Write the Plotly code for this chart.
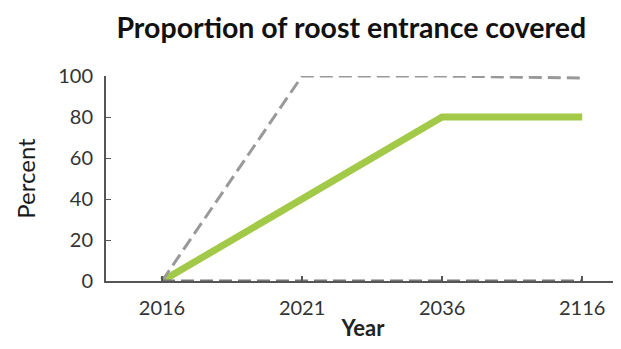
import plotly.graph_objects as go

years = ["2016", "2021", "2036", "2116"]
upper = [0, 100, 100, 99]
lower = [0, 0, 0, 0]
expected = [0, 40, 80, 80]

FONT = "Lato"

fig = go.Figure()
fig.add_trace(go.Scatter(x=years, y=expected, mode="lines",
                         line=dict(color="#a3c948", width=7), showlegend=False))
fig.add_trace(go.Scatter(x=years, y=upper, mode="lines",
                         line=dict(color="#999999", width=3, dash="13px,6px"), showlegend=False))
fig.add_trace(go.Scatter(x=years, y=lower, mode="lines",
                         line=dict(color="#777777", width=3, dash="13px,6px"), showlegend=False))

# page body has an 8px margin, so the figure is offset by 8px
fig.update_layout(
    width=613, height=341,
    margin=dict(l=98, r=1, t=68, b=68),
    paper_bgcolor="white", plot_bgcolor="white",
    title=dict(text="<b>Proportion of roost entrance covered</b>",
               x=0.560, xanchor="center", y=0.941, yanchor="middle",
               font=dict(family=FONT, size=28.5, color="#111")),
    font=dict(family=FONT, color="#333"),
    xaxis=dict(type="category", range=[-0.4, 3.27],
               showline=True, linecolor="#555", linewidth=2,
               ticks="inside", ticklen=5, tickcolor="#555", tickwidth=2,
               showgrid=False, zeroline=False, ticklabelstandoff=8,
               tickfont=dict(size=20, color="#333"),
               title=dict(text="<b>Year</b>", font=dict(size=22, color="#222"), standoff=3)),
    yaxis=dict(range=[0, 100], tickvals=[0, 20, 40, 60, 80, 100],
               showline=True, linecolor="#555", linewidth=2,
               ticks="inside", ticklen=5, tickcolor="#555", tickwidth=1,
               showgrid=False, zeroline=False, ticklabelstandoff=7,
               tickfont=dict(size=20, color="#333"),
               title=dict(text="Percent", font=dict(family=FONT, size=24, color="#1a1a1a"),
                          standoff=16)),
)

fig.write_html("out.html")
